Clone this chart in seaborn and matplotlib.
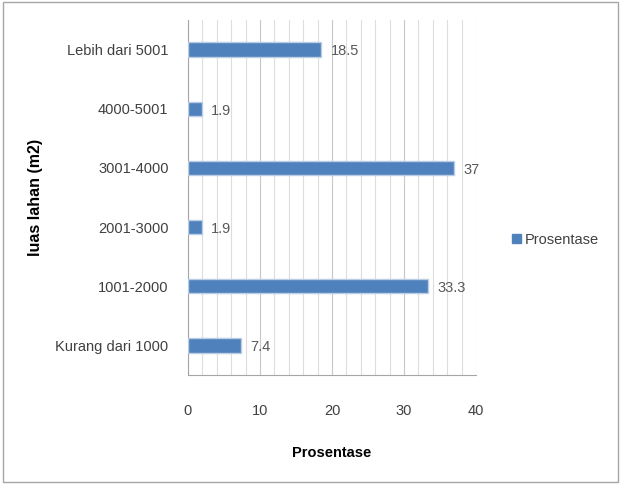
import pandas as pd
import matplotlib.pyplot as plt
import seaborn as sns
from matplotlib.ticker import MultipleLocator
from matplotlib.patches import Rectangle

categories = ['Lebih dari 5001', '4000-5001', '3001-4000', '2001-3000', '1001-2000', 'Kurang dari 1000']
prosentase = [18.5, 1.9, 37, 1.9, 33.3, 7.4]
value_labels = ['18.5', '1.9', '37', '1.9', '33.3', '7.4']

df = pd.DataFrame({'luas': categories, 'Prosentase': prosentase})

sns.set_style('white')
plt.rcParams['font.family'] = ['Liberation Sans', 'DejaVu Sans']

fig = plt.figure(figsize=(6.21, 4.84), dpi=100)
ax = fig.add_axes([0.3027, 0.2252, 0.4638, 0.7335])

bar_color = '#4F81BD'
sns.barplot(data=df, x='Prosentase', y='luas', order=categories, color=bar_color,
            width=0.24, saturation=1, edgecolor='#B9CDE5', linewidth=1.0, ax=ax, zorder=3)

for patch, lab in zip(ax.patches, value_labels):
    y = patch.get_y() + patch.get_height() / 2
    ax.text(patch.get_width() + 1.3, y + 0.03, lab, va='center', ha='left',
            fontsize=10.5, color='#595959')

ax.set_xlim(0, 40)
ax.xaxis.set_major_locator(MultipleLocator(10))
ax.xaxis.set_minor_locator(MultipleLocator(2))
ax.grid(which='both', axis='x', color='#DDDDDD', linewidth=0.8, zorder=0)
ax.grid(which='major', axis='x', color='#C8C8C8', linewidth=0.8, zorder=0)
ax.set_axisbelow(True)

for side in ['top', 'right']:
    ax.spines[side].set_visible(False)
for side in ['left', 'bottom']:
    ax.spines[side].set_color('#A6A6A6')
    ax.spines[side].set_linewidth(0.8)

ax.tick_params(axis='x', which='major', direction='out', length=5, color='#A6A6A6',
               labelsize=10.5, labelcolor='#404040', pad=16)
ax.tick_params(axis='x', which='minor', length=0)
ax.tick_params(axis='y', length=0, labelsize=10.5, labelcolor='#404040', pad=14)

ax.set_xlabel('Prosentase', fontsize=10.5, fontweight='bold', color='#000000', labelpad=20)
ax.set_ylabel('luas lahan (m2)', fontsize=11.5, fontweight='bold', color='#000000', labelpad=9)

# legend
handle = Rectangle((0, 0), 1, 1, color=bar_color)
fig.legend([handle], ['Prosentase'], loc='center left', bbox_to_anchor=(0.803, 0.505),
           frameon=False, fontsize=10.5, handlelength=0.6, handleheight=0.6,
           handletextpad=0.3, labelcolor='#404040')

# chart border
fig.patches.append(Rectangle((0.005, 0.005), 0.99, 0.99, transform=fig.transFigure,
                             fill=False, edgecolor='#A6A6A6', linewidth=1.0))

plt.savefig('out.png', dpi=100)
